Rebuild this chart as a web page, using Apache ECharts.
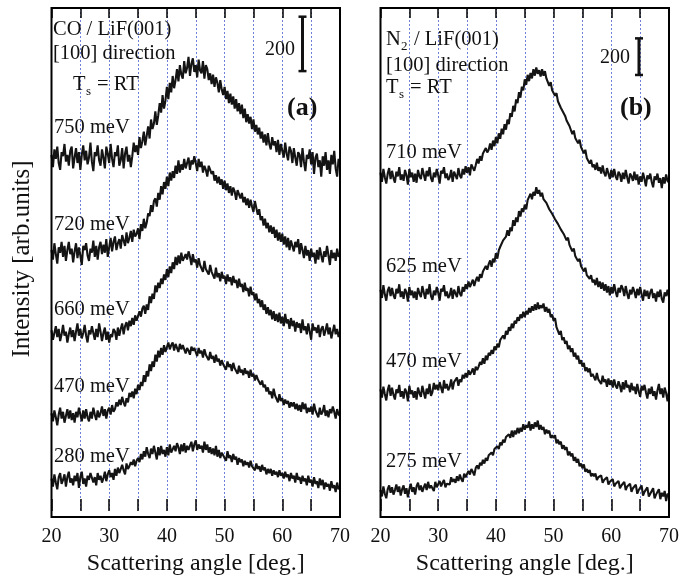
<!DOCTYPE html>
<html><head><meta charset="utf-8">
<script src="https://cdn.jsdelivr.net/npm/echarts@6/dist/echarts.min.js"></script>
<style>html,body{margin:0;padding:0;background:#fff}#c{width:693px;height:581px}</style>
</head><body><div id="c"></div>
<script>
// Scattering angle sampling (deg): 20 .. 70 in 0.25 steps
const angleStart = 20, angleStep = 0.25, nPts = 201;
const angles = [];
for (let i = 0; i < nPts; i++) angles.push(angleStart + i * angleStep);

// Panel (a) CO / LiF(001): intensities incl. vertical offsets (counts), 4 samples per degree
const co750 = [
1310,1265,1330,1295, 1340,1280,1255,1320, 1305,1350,1285,1310, 1270,1325,1340,1260, 1300,1335,1280,1320,
1255,1310,1345,1290, 1325,1275,1300,1355, 1285,1250,1320,1305, 1345,1290,1270,1330, 1300,1260,1340,1315,
1280,1350,1295,1265, 1320,1305,1345,1270, 1290,1335,1260,1315, 1340,1285,1310,1265, 1305,1355,1320,1345,
1310,1375,1335,1360, 1395,1345,1380,1415, 1370,1440,1405,1425, 1470,1420,1455,1500, 1465,1530,1480,1510,
1560,1515,1575,1540, 1600,1555,1585,1625, 1580,1640,1605,1590, 1655,1610,1630,1670, 1600,1645,1665,1615,
1640,1595,1660,1620, 1610,1655,1590,1640, 1625,1585,1610,1570, 1605,1560,1595,1575, 1540,1585,1550,1530,
1560,1515,1545,1500, 1535,1495,1525,1480, 1515,1470,1500,1460, 1495,1445,1480,1430, 1460,1425,1450,1405,
1440,1395,1420,1385, 1410,1370,1395,1355, 1385,1345,1390,1350, 1330,1375,1345,1360, 1320,1365,1310,1350,
1345,1300,1355,1315, 1290,1340,1325,1280, 1335,1300,1270,1320, 1310,1265,1335,1285, 1250,1310,1295,1330,
1275,1320,1240,1300, 1315,1265,1290,1230, 1305,1270,1320,1255, 1290,1240,1310,1275, 1325,1260,1230,1295,
1275];
const co720 = [
960,925,985,945, 910,970,950,990, 935,975,920,960, 990,945,965,915, 955,985,930,970,
940,905,975,960, 985,940,920,965, 950,995,935,975, 925,970,990,945, 980,950,1000,935,
970,1005,955,990, 1010,960,985,1000, 965,1015,995,975, 1025,985,1005,1030, 990,1035,1010,1020,
1040,1000,1055,1030, 1075,1040,1060,1095, 1085,1125,1100,1140, 1150,1120,1170,1145, 1195,1165,1210,1185,
1230,1195,1245,1215, 1250,1225,1270,1240, 1290,1245,1275,1255, 1295,1260,1280,1300, 1255,1290,1275,1305,
1280,1250,1295,1265, 1285,1245,1270,1255, 1230,1270,1255,1240, 1250,1215,1235,1205, 1230,1200,1220,1185,
1215,1180,1205,1170, 1195,1160,1190,1175, 1145,1180,1165,1150, 1170,1135,1155,1125, 1150,1115,1145,1120,
1100,1140,1115,1090, 1110,1070,1085,1050, 1075,1040,1060,1025, 1050,1020,1045,1005, 1035,995,1025,990,
1020,980,1010,970, 1005,960,995,975, 955,990,970,1000, 945,985,960,930, 975,940,960,920,
965,935,950,910, 960,925,970,940, 915,955,935,975, 940,905,960,930, 950,920,965,935,
945];
const co660 = [
665,630,655,680, 640,670,625,650, 685,645,660,620, 650,675,640,665, 625,660,690,645,
670,635,655,685, 645,620,665,650, 680,655,630,670, 640,690,660,625, 655,675,630,660,
620,650,640,670, 660,630,675,645, 670,690,650,680, 695,665,700,680, 710,685,720,700,
700,735,715,745, 755,725,760,740, 790,765,800,780, 830,805,840,820, 855,835,870,850,
890,860,900,875, 915,890,935,905, 940,910,950,920, 915,945,925,955, 935,905,945,915,
925,895,930,905, 910,880,920,890, 895,870,905,880, 885,855,895,860, 875,845,880,855,
865,835,870,845, 860,830,865,840, 850,820,855,825, 835,805,840,810, 820,790,825,795,
805,775,800,765, 780,750,775,740, 760,725,750,720, 740,705,735,700, 725,695,730,690,
715,680,725,690, 705,670,710,680, 700,660,695,675, 690,655,705,665, 680,650,690,660,
630,690,665,675, 655,685,640,670, 680,645,665,690, 650,675,635,660, 685,650,670,640,
660];
const co470 = [
360,330,370,345, 315,355,380,340, 365,325,350,375, 340,370,335,360, 325,365,345,380,
355,330,370,340, 375,345,330,365, 340,380,355,335, 370,345,360,385, 350,375,340,370,
380,355,390,365, 375,400,385,410, 390,420,400,385, 415,400,435,420, 440,415,450,430,
465,445,475,460, 500,475,515,495, 540,515,550,530, 575,550,590,565, 600,575,610,585,
590,620,595,610, 620,590,615,600, 585,615,595,610, 610,580,600,590, 575,605,590,600,
595,570,600,580, 590,565,595,575, 580,555,585,560, 570,545,575,550, 560,535,555,540,
545,520,550,530, 540,515,545,525, 530,505,535,510, 520,500,525,505, 515,490,520,495,
505,480,500,485, 490,465,480,455, 465,440,455,430, 440,415,450,425, 420,400,430,405,
415,390,410,395, 405,380,400,385, 400,375,395,370, 390,365,400,375, 395,360,380,365,
385,355,395,370, 375,345,380,355, 365,390,350,370, 345,375,360,385, 365,340,375,355,
350];
const co280 = [
120,90,135,105, 80,125,140,100, 115,135,90,125, 145,105,120,95, 130,110,140,85,
125,145,100,120, 90,130,115,140, 135,105,125,95, 140,115,130,105, 120,145,110,135,
150,125,140,115, 155,130,160,140, 145,170,150,135, 175,155,165,180, 170,190,165,185,
195,180,210,190, 220,200,235,210, 195,230,210,240, 215,190,235,205, 240,210,225,200,
235,205,245,215, 210,240,220,250, 235,210,245,220, 250,215,240,225, 230,255,220,245,
260,225,245,230, 240,215,255,225, 245,215,235,210, 230,205,240,200, 225,195,215,205,
210,185,220,195, 205,180,210,190, 200,170,195,180, 190,165,185,170, 180,160,185,165,
170,150,175,155, 165,145,170,150, 160,135,155,140, 155,130,150,135, 145,125,150,130,
140,120,145,125, 135,110,140,120, 130,105,140,115, 125,100,130,110, 120,95,130,105,
115,90,125,100, 110,85,120,95, 115,80,105,90, 100,75,110,85, 95,70,105,80,
90];

// Panel (b) N2 / LiF(001)
const n710 = [
1850,1800,1870,1825, 1790,1845,1875,1815, 1860,1820,1795,1855, 1830,1880,1810,1840, 1805,1865,1835,1785,
1870,1825,1850,1800, 1845,1795,1865,1830, 1815,1875,1840,1805, 1860,1830,1880,1820, 1800,1850,1825,1870,
1835,1790,1860,1845, 1880,1820,1845,1810, 1825,1865,1800,1855, 1850,1815,1875,1835, 1820,1870,1840,1885,
1850,1880,1835,1895, 1905,1860,1890,1925, 1900,1940,1915,1955, 1945,1985,1960,1975, 2010,1975,2025,1995,
2045,2010,2065,2035, 2090,2060,2115,2085, 2140,2115,2175,2155, 2215,2185,2250,2230, 2290,2260,2320,2300,
2360,2330,2385,2350, 2395,2365,2415,2380, 2425,2390,2410,2375, 2415,2380,2405,2365, 2360,2325,2345,2300,
2305,2270,2285,2240, 2235,2205,2210,2175, 2160,2135,2140,2105, 2095,2060,2080,2040, 2045,2010,2030,1990,
1985,1955,1975,1930, 1935,1900,1920,1880, 1895,1865,1905,1860, 1880,1845,1890,1850, 1830,1875,1845,1815,
1865,1825,1870,1830, 1810,1855,1840,1800, 1850,1815,1865,1825, 1790,1845,1830,1805, 1855,1810,1840,1785,
1830,1800,1850,1815, 1775,1835,1815,1845, 1800,1770,1830,1810, 1845,1795,1820,1765, 1825,1790,1840,1805,
1795];
const n625 = [
1210,1165,1235,1185, 1150,1205,1225,1175, 1220,1180,1160,1215, 1190,1240,1170,1200, 1160,1215,1195,1145,
1225,1180,1205,1165, 1200,1155,1220,1190, 1170,1230,1195,1160, 1215,1185,1240,1175, 1155,1205,1180,1225,
1195,1150,1215,1200, 1235,1175,1200,1165, 1180,1220,1160,1210, 1205,1170,1230,1190, 1175,1225,1200,1240,
1215,1255,1225,1245, 1265,1230,1260,1280, 1255,1295,1275,1310, 1305,1340,1320,1350, 1370,1335,1380,1360,
1410,1380,1425,1445, 1450,1480,1470,1500, 1535,1505,1550,1530, 1590,1560,1605,1580, 1640,1610,1655,1635,
1675,1650,1700,1690, 1735,1705,1745,1725, 1770,1735,1755,1720, 1740,1705,1715,1685, 1680,1650,1660,1625,
1625,1595,1605,1570, 1570,1540,1550,1515, 1515,1480,1495,1455, 1450,1420,1435,1395, 1400,1365,1380,1340,
1345,1310,1330,1290, 1300,1270,1290,1250, 1265,1235,1275,1225, 1255,1215,1250,1205, 1240,1195,1230,1180,
1225,1190,1240,1200, 1170,1220,1195,1235, 1215,1175,1230,1190, 1160,1210,1185,1225, 1200,1165,1215,1180,
1225,1185,1150,1210, 1175,1205,1160,1195, 1215,1165,1190,1145, 1200,1170,1210,1160, 1140,1195,1175,1210,
1170];
const n470 = [
665,620,680,640, 605,660,690,630, 675,635,610,665, 645,690,625,655, 615,670,650,600,
685,640,660,620, 655,610,675,645, 625,685,650,615, 670,640,695,630, 650,700,665,690,
660,705,675,645, 715,670,695,660, 680,720,665,705, 695,730,685,720, 705,745,725,755,
730,770,745,760, 780,745,790,770, 790,815,800,835, 805,850,825,865, 850,880,860,900,
880,915,895,935, 925,960,940,985, 965,1005,985,1025, 1000,1040,1025,1060, 1040,1075,1055,1090,
1060,1095,1075,1110, 1085,1120,1095,1130, 1100,1140,1105,1125, 1110,1135,1090,1115, 1085,1105,1060,1075,
1040,1055,1005,1015, 965,985,935,950, 915,930,885,905, 870,890,845,865, 830,850,805,825,
790,810,765,785, 760,780,735,750, 745,715,755,720, 730,695,740,705, 720,680,725,690,
715,675,720,685, 670,710,685,650, 705,665,715,675, 690,650,700,660, 680,640,695,655,
625,685,660,690, 650,615,670,640, 680,630,655,610, 660,695,640,670, 620,675,645,600,
655];
const n275 = [
115,80,135,95, 70,120,140,100, 130,90,115,145, 105,135,85,120, 140,95,125,75,
120,150,105,130, 90,135,155,115, 140,105,130,150, 115,160,125,140, 145,110,160,130,
120,165,135,155, 170,130,150,140, 145,185,160,175, 155,190,165,200, 175,160,205,185,
185,220,200,230, 215,195,235,250, 230,265,250,280, 260,290,275,305, 295,320,305,340,
330,355,340,375, 360,390,375,405, 395,420,400,440, 405,440,420,455, 425,455,435,475,
445,470,455,490, 440,475,450,485, 460,495,445,470, 445,460,420,445, 425,440,400,415,
400,415,370,390, 365,380,340,360, 335,350,305,325, 300,315,275,295, 265,285,245,260,
235,255,215,230, 210,225,190,205, 190,205,170,185, 175,195,155,170, 165,185,145,160,
155,175,135,150, 145,165,125,140, 140,160,115,135, 130,150,105,125, 120,145,95,115,
110,140,85,105, 100,130,80,95, 95,125,70,90, 85,120,65,100, 80,110,55,95,
85];

const seriesA = [["750 meV", co750], ["720 meV", co720], ["660 meV", co660], ["470 meV", co470], ["280 meV", co280]];
const seriesB = [["710 meV", n710], ["625 meV", n625], ["470 meV", n470], ["275 meV", n275]];
const xTicks = [20, 30, 40, 50, 60, 70];
const scaleBarCounts = 200;

const SERIF = '"Liberation Serif","Times New Roman",serif';
const toPairs = arr => arr.map((v, i) => [angles[i], v]);

const grids = [
  {left: 51.5, top: 8, width: 288.5, height: 509},
  {left: 380.5, top: 8, width: 288.5, height: 509}
];
const yMax = [1850, 2750];

const xAxes = [], yAxes = [], series = [];
[0, 1].forEach(g => {
  xAxes.push({
    type: 'value', gridIndex: g, min: 20, max: 70, interval: 5, position: 'bottom',
    axisLine: {show: false},
    axisTick: {show: true, inside: true, length: 12, lineStyle: {color: '#000', width: 1.5}},
    axisLabel: {show: true, margin: 16, fontSize: 20, fontFamily: SERIF, color: '#111',
      formatter: v => xTicks.indexOf(v) >= 0 ? String(v) : ''},
    splitLine: {show: true, lineStyle: {color: '#6f80d8', width: 1, type: [2, 2]}},
    name: 'Scattering angle [deg.]', nameLocation: 'middle', nameGap: 37,
    nameTextStyle: {fontSize: 24, fontFamily: SERIF, color: '#111'}
  });
  xAxes.push({
    type: 'value', gridIndex: g, min: 20, max: 70, interval: 5, position: 'top',
    axisLine: {show: false},
    axisTick: {show: true, inside: true, length: 10, lineStyle: {color: '#000', width: 1.5}},
    axisLabel: {show: false}, splitLine: {show: false}
  });
  yAxes.push({
    type: 'value', gridIndex: g, min: 0, max: yMax[g],
    axisLine: {show: false}, axisTick: {show: false}, axisLabel: {show: false}, splitLine: {show: false}
  });
});

function addCurves(list, g) {
  list.forEach(([name, vals]) => {
    series.push({
      type: 'line', name, xAxisIndex: g * 2, yAxisIndex: g, data: toPairs(vals),
      showSymbol: false, symbol: 'none', animation: false, silent: true,
      lineStyle: {color: '#141414', width: 2.1}
    });
  });
}
addCurves(seriesA, 0);
addCurves(seriesB, 1);

// scale bars (200 counts)
function addScaleBar(g, xDeg, yFrom) {
  series.push({
    type: 'line', xAxisIndex: g * 2, yAxisIndex: g,
    data: [[xDeg, yFrom], [xDeg, yFrom + scaleBarCounts]],
    symbol: 'rect', symbolSize: [8, 2.5], showSymbol: true, animation: false, silent: true,
    itemStyle: {color: '#111'}, lineStyle: {color: '#111', width: 3}
  });
}
addScaleBar(0, 63.5, 1618);
addScaleBar(1, 64.8, 2384);

function txt(text, x, y, size) {
  return {type: 'text', x: x, y: y, z: 100,
    style: {text: text, fill: '#111', fontSize: size, fontFamily: SERIF, align: 'left', verticalAlign: 'middle'}};
}
function txtB(text, x, y, size) {
  const t = txt(text, x, y, size);
  t.style.fontWeight = 'bold';
  return t;
}

const labelYA = [128, 225, 310, 387, 457];
const labelYB = [153, 267, 362, 462];

const graphic = [
  // panel a header
  txt('CO / LiF(001)', 53, 30, 20.5),
  txt('[100] direction', 53, 54, 20.5),
  txt('T', 73, 85, 20.5), txt('s', 86, 92, 13), txt('= RT', 97, 85, 20.5),
  txt('200', 265, 50, 20),
  txtB('(a)', 287, 108, 26),
  // panel b header
  txt('N', 386, 40, 20.5), txt('2', 401, 47, 13), txt('/ LiF(001)', 414, 40, 20.5),
  txt('[100] direction', 386, 66, 20.5),
  txt('T', 386, 88, 20.5), txt('s', 399, 95, 13), txt('= RT', 410, 88, 20.5),
  txt('200', 600, 58, 20),
  txtB('(b)', 620, 108, 26),
  // y title
  {type: 'text', x: 22, y: 259, rotation: Math.PI / 2, z: 100,
   style: {text: 'Intensity [arb.units]', fill: '#111', fontSize: 25, fontFamily: SERIF, align: 'center', verticalAlign: 'middle'}},
  // frames
  {type: 'rect', shape: {x: 51.5, y: 8, width: 288.5, height: 509}, z: 50,
   style: {fill: 'none', stroke: '#000', lineWidth: 2}},
  {type: 'rect', shape: {x: 380.5, y: 8, width: 288.5, height: 509}, z: 50,
   style: {fill: 'none', stroke: '#000', lineWidth: 2}}
];
seriesA.forEach(([n], i) => graphic.push(txt(n, 54, labelYA[i], 20.5)));
seriesB.forEach(([n], i) => graphic.push(txt(n, 386, labelYB[i], 20.5)));

const chart = echarts.init(document.getElementById('c'), null, {renderer: 'canvas'});
chart.setOption({
  animation: false,
  backgroundColor: '#fff',
  grid: grids,
  xAxis: xAxes,
  yAxis: yAxes,
  series: series,
  graphic: graphic
});
</script>
</body></html>
